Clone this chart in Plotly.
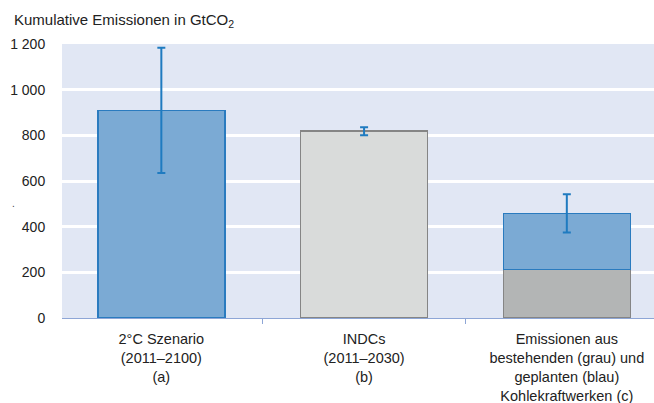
import plotly.graph_objects as go

categories = ["2°C Szenario<br>(2011–2100)<br>(a)",
              "INDCs<br>(2011–2030)<br>(b)",
              "Emissionen aus<br>bestehenden (grau) und<br>geplanten (blau)<br>Kohlekraftwerken (c)"]
base_values = [908, 818, 213]          # lower part of each bar
upper_values = [None, None, 245]       # planned coal (blue part on bar c)
err_plus = [276, 17, 84]
err_minus = [273, 18, 84]
y_tickvals = [0, 200, 400, 600, 800, 1000, 1200]
y_ticktext = ["0", "200", "400", "600", "800", "1 000", "1 200"]

BLUE = "#7BAAD4"
BLUE_EDGE = "#2A7BBF"
LGRAY = "#D9DBDA"
DGRAY = "#B3B5B5"
GRAY_EDGE = "#858585"
ERR = "#1F7BC0"

totals = [b + (u or 0) for b, u in zip(base_values, upper_values)]

fig = go.Figure()
fig.add_trace(go.Bar(
    x=categories, y=base_values,
    marker=dict(color=[BLUE, LGRAY, DGRAY],
                line=dict(color=[BLUE_EDGE, GRAY_EDGE, GRAY_EDGE], width=1.5)),
    width=0.627, showlegend=False, hoverinfo="skip"))
fig.add_trace(go.Bar(
    x=categories, y=upper_values,
    marker=dict(color=BLUE, line=dict(color=BLUE_EDGE, width=1.5)),
    width=0.627, showlegend=False, hoverinfo="skip"))
fig.add_trace(go.Scatter(
    x=categories, y=totals, mode="markers",
    marker=dict(size=1, opacity=0),
    error_y=dict(type="data", symmetric=False, array=err_plus, arrayminus=err_minus,
                 color=ERR, thickness=2, width=4),
    showlegend=False, hoverinfo="skip"))

fig.update_layout(
    barmode="stack",
    width=654, height=403,
    margin=dict(l=62, r=0, t=44, b=85),
    paper_bgcolor="white",
    plot_bgcolor="#E1E7F4",
    font=dict(family="Liberation Sans, Arial, sans-serif", size=13, color="#222222"),
    title=dict(text="Kumulative Emissionen in GtCO<sub>2</sub>", xref="container", yref="container",
               x=14/654, xanchor="left", y=1-20/403, yanchor="middle",
               font=dict(size=15, color="#222222")),
    xaxis=dict(type="category", range=[-0.49, 2.43], tickson="boundaries",
               ticks="outside", ticklen=5, tickcolor="#8EA6D6",
               showline=True, linecolor="#8EA6D6", linewidth=1,
               showgrid=False, tickfont=dict(size=14.5), automargin=False,
               ticklabelstandoff=8),
    yaxis=dict(range=[0, 1200], tickvals=y_tickvals, ticktext=y_ticktext,
               showgrid=True, gridcolor="white", gridwidth=3,
               zeroline=False, showline=False, ticks="outside", ticklen=13,
               tickcolor="rgba(0,0,0,0)", tickfont=dict(size=14), automargin=False),
    annotations=[dict(text=".", xref="paper", yref="paper", x=-52/592, y=(318-203)/274,
                      showarrow=False, font=dict(size=10, color="#444444"))],
)

fig.write_html("out.html", config={"displayModeBar": False},
               post_script="document.body.style.margin='0';")
